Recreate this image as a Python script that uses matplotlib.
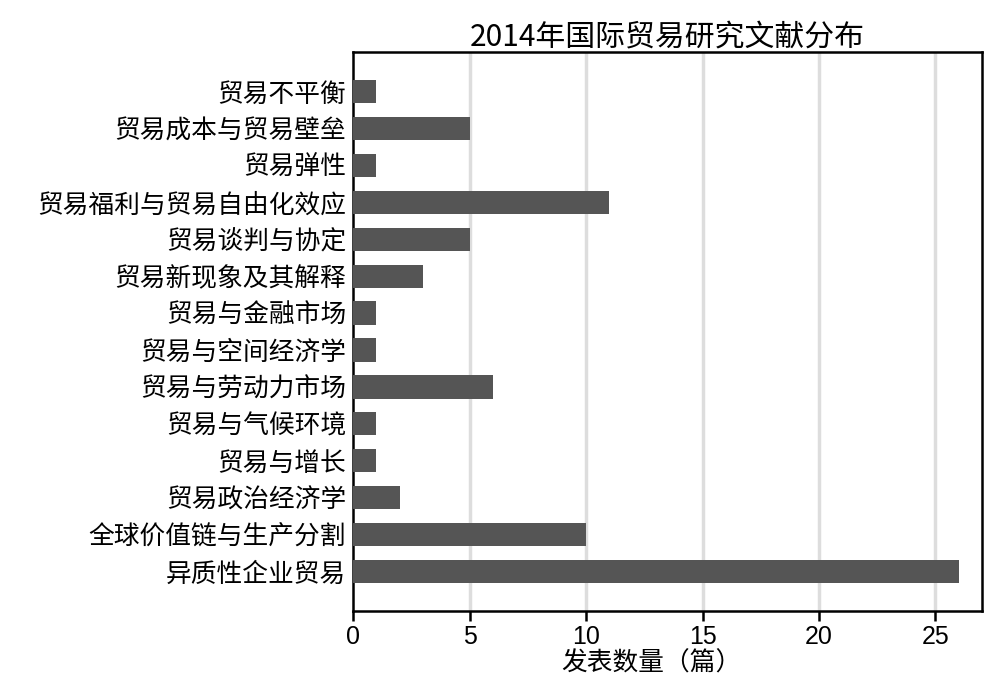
import matplotlib
matplotlib.use("Agg")
import matplotlib.pyplot as plt

plt.rcParams['font.family'] = ['Noto Sans CJK SC', 'DejaVu Sans']

# dados (de cima para baixo)
categorias = ['贸易不平衡', '贸易成本与贸易壁垒', '贸易弹性', '贸易福利与贸易自由化效应',
              '贸易谈判与协定', '贸易新现象及其解释', '贸易与金融市场', '贸易与空间经济学',
              '贸易与劳动力市场', '贸易与气候环境', '贸易与增长', '贸易政治经济学',
              '全球价值链与生产分割', '异质性企业贸易']
valores = [1, 5, 1, 11, 5, 3, 1, 1, 6, 1, 1, 2, 10, 26]
ticks_x = [0, 5, 10, 15, 20, 25]

fig = plt.figure(figsize=(9.9, 6.79), dpi=100)
ax = fig.add_axes([0.3566, 0.1001, 0.6354, 0.8233])

pos = list(range(len(categorias)))
ax.barh(pos, valores, height=0.63, color='#555555', zorder=3)
ax.set_yticks(pos)
ax.set_yticklabels(categorias, fontsize=18.5)
ax.set_ylim(len(categorias) - 1 + 1.07, -1.07)
ax.set_xlim(0, 27)
ax.set_xticks(ticks_x)
ax.set_xticklabels([str(t) for t in ticks_x], fontsize=18, family=['Liberation Sans'])
ax.tick_params(axis='x', length=7, width=1.8, direction='out', pad=3)
ax.tick_params(axis='y', length=0, pad=5)

for x in ticks_x[1:]:
    ax.axvline(x, color='#dddddd', linewidth=2.5, zorder=1)

for s in ax.spines.values():
    s.set_linewidth(1.8)
    s.set_color('black')

ax.set_title('2014年国际贸易研究文献分布', fontsize=21.5, pad=5)
ax.set_xlabel('发表数量（篇）', fontsize=18.5)
ax.xaxis.set_label_coords(0.475, -0.07)

fig.savefig('out.png', dpi=100)
